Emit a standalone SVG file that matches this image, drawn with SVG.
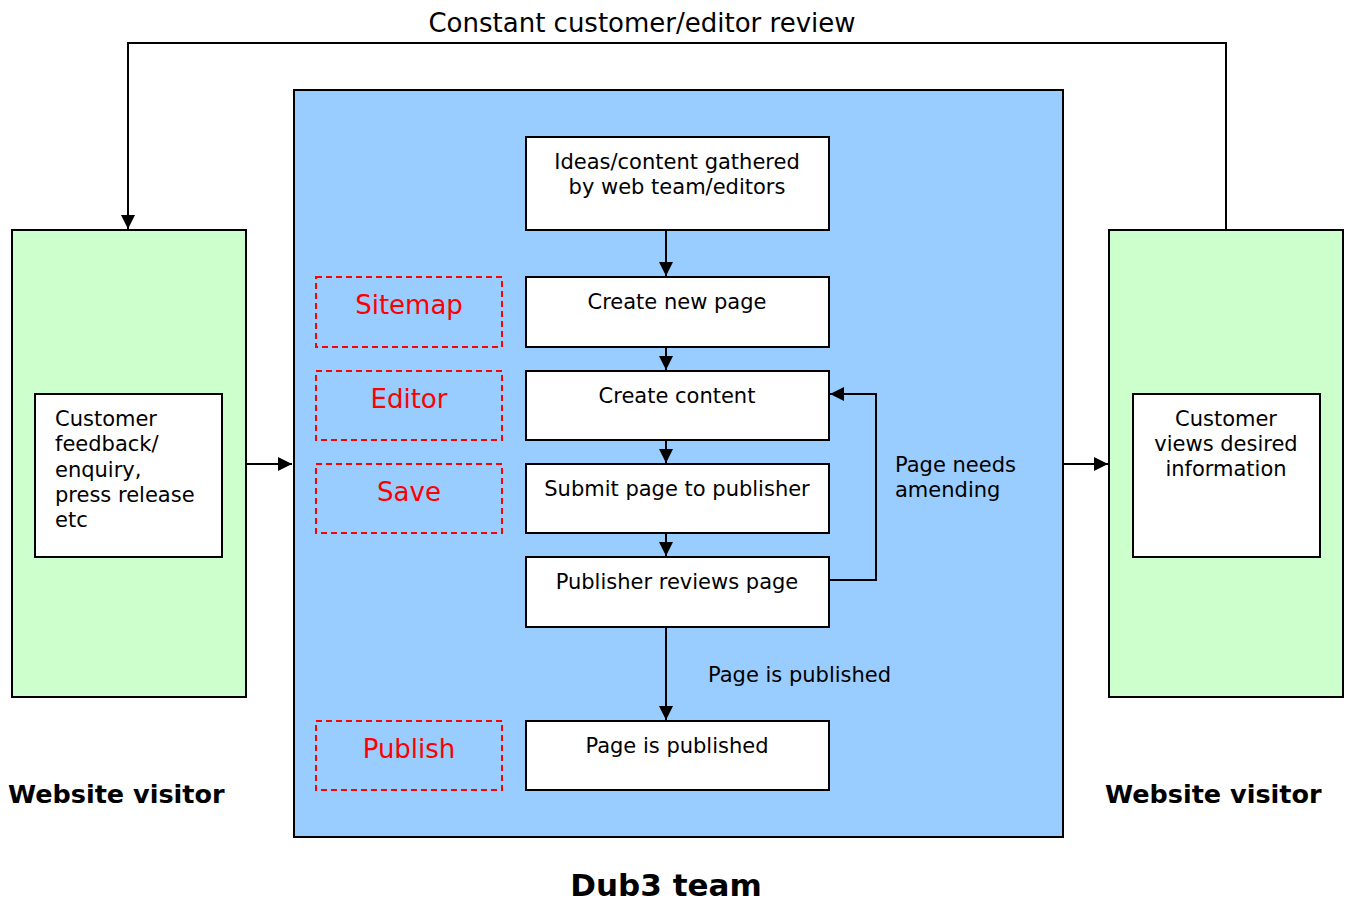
<svg xmlns="http://www.w3.org/2000/svg" width="1347" height="904" viewBox="0 0 1347 904">
<defs>
<marker id="ahs" markerWidth="14" markerHeight="14" viewBox="0 0 14 14" refX="14" refY="7" orient="auto" markerUnits="userSpaceOnUse">
<path d="M0,0 L14,7 L0,14 Z" fill="#000"/>
</marker>
<style>
.t{font-family:"DejaVu Sans","Verdana",sans-serif;font-size:21px;fill:#000}
.r{font-family:"DejaVu Sans","Verdana",sans-serif;font-size:26px;fill:#ff0000;text-anchor:middle}
.b{font-family:"DejaVu Sans","Verdana",sans-serif;font-weight:bold;fill:#000}
.box{fill:#fff;stroke:#000;stroke-width:2}
.red{fill:none;stroke:#ff0000;stroke-width:2;stroke-dasharray:6,4}
.ln{fill:none;stroke:#000;stroke-width:2}
.mid{text-anchor:middle}
</style>
</defs>
<rect width="1347" height="904" fill="#fff"/>

<g id="team">
<rect x="294" y="90" width="769" height="747" fill="#99CCFF" stroke="#000" stroke-width="2"/>
</g>
<g id="visitor-left">
<rect x="12" y="230" width="234" height="467" fill="#CCFFCC" stroke="#000" stroke-width="2"/>
<rect class="box" x="35" y="394" width="187" height="163"/>
<text class="t" x="55" y="426">Customer</text>
<text class="t" x="55" y="451">feedback/</text>
<text class="t" x="55" y="477">enquiry,</text>
<text class="t" x="55" y="502">press release</text>
<text class="t" x="55" y="527">etc</text>
</g>
<g id="visitor-right">
<rect x="1109" y="230" width="234" height="467" fill="#CCFFCC" stroke="#000" stroke-width="2"/>
<rect class="box" x="1133" y="394" width="187" height="163"/>
<text class="t mid" x="1226" y="426">Customer</text>
<text class="t mid" x="1226" y="451">views desired</text>
<text class="t mid" x="1226" y="476">information</text>
</g>

<g id="n1"><rect class="box" x="526" y="137" width="303" height="93"/>
<text class="t mid" x="677" y="169">Ideas/content gathered</text>
<text class="t mid" x="677" y="194">by web team/editors</text></g>
<g id="n2"><rect class="box" x="526" y="277" width="303" height="70"/>
<text class="t mid" x="677" y="309">Create new page</text></g>
<g id="n3"><rect class="box" x="526" y="371" width="303" height="69"/>
<text class="t mid" x="677" y="403">Create content</text></g>
<g id="n4"><rect class="box" x="526" y="464" width="303" height="69"/>
<text class="t mid" x="677" y="496">Submit page to publisher</text></g>
<g id="n5"><rect class="box" x="526" y="557" width="303" height="70"/>
<text class="t mid" x="677" y="589">Publisher reviews page</text></g>
<g id="n6"><rect class="box" x="526" y="721" width="303" height="69"/>
<text class="t mid" x="677" y="753">Page is published</text></g>

<g id="sitemap"><rect class="red" x="316" y="277" width="186" height="70"/><text class="r" x="409" y="314">Sitemap</text></g>
<g id="editor"><rect class="red" x="316" y="371" width="186" height="69"/><text class="r" x="409" y="408">Editor</text></g>
<g id="save"><rect class="red" x="316" y="464" width="186" height="69"/><text class="r" x="409" y="501">Save</text></g>
<g id="publish"><rect class="red" x="316" y="721" width="186" height="69"/><text class="r" x="409" y="758">Publish</text></g>

<g id="connectors">
<polyline class="ln" points="1226,230 1226,43 128,43 128,229" stroke-width="1.5" marker-end="url(#ahs)"/>
<line class="ln" x1="246" y1="464" x2="292" y2="464" stroke-width="3.5" marker-end="url(#ahs)"/>
<line class="ln" x1="1063" y1="464" x2="1108" y2="464" stroke-width="3.5" marker-end="url(#ahs)"/>
<line class="ln" x1="666" y1="230" x2="666" y2="276" marker-end="url(#ahs)"/>
<line class="ln" x1="666" y1="347" x2="666" y2="370" marker-end="url(#ahs)"/>
<line class="ln" x1="666" y1="440" x2="666" y2="463" marker-end="url(#ahs)"/>
<line class="ln" x1="666" y1="533" x2="666" y2="556" marker-end="url(#ahs)"/>
<line class="ln" x1="666" y1="627" x2="666" y2="720" marker-end="url(#ahs)"/>
<polyline class="ln" points="829,580 876,580 876,394 830,394" marker-end="url(#ahs)"/>
</g>

<text class="t mid" x="642" y="32" style="font-size:26px">Constant customer/editor review</text>
<text class="t" x="895" y="472">Page needs</text>
<text class="t" x="895" y="497">amending</text>
<text class="t" x="708" y="682">Page is published</text>
<text class="b" x="8" y="803" style="font-size:25.5px">Website visitor</text>
<text class="b" x="1105" y="803" style="font-size:25.5px">Website visitor</text>
<text class="b mid" x="666" y="896" style="font-size:31px">Dub3 team</text>
</svg>
